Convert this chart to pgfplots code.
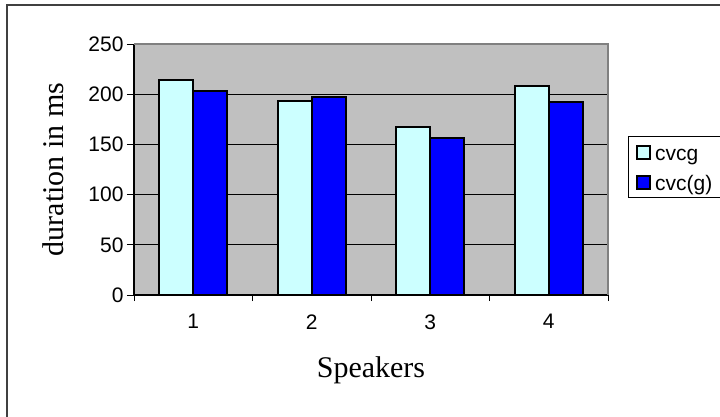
\documentclass[border=0pt]{standalone}
\usepackage{fontspec}
\setmainfont{Liberation Sans}
\newfontfamily\serifti{Liberation Serif}
\usepackage{pgfplots}
\pgfplotsset{compat=1.18}
\definecolor{lightcyan}{HTML}{CCFFFF}
\definecolor{plotgray}{HTML}{C0C0C0}
\definecolor{bordergray}{HTML}{808080}
\definecolor{framegray}{HTML}{404040}
\newcommand\lstrut{\rule[-4.5pt]{0pt}{23.5pt}}
\begin{document}
\begin{tikzpicture}[x=1pt,y=1pt]
\path[use as bounding box] (0,0) rectangle (720,416);
\draw[framegray, line width=2pt] (6.5,-5) -- (6.5,411) -- (730,411);
\begin{axis}[
 at={(134pt,121pt)}, anchor=south west,
 scale only axis, width=474pt, height=251pt,
 xmin=0.5, xmax=4.5, ymin=0, ymax=250,
 clip=false,
 ybar=0pt, bar width=34pt,
 axis background/.style={fill=plotgray},
 axis x line*=bottom, axis y line*=left,
 axis line style={line width=1.2pt, black, -},
 xtick={1,2,3,4},
 minor xtick={0.5,1.5,2.5,3.5,4.5},
 major x tick style={draw=none},
 minor x tick style={black, line width=1pt},
 minor tick length=6pt,
 ytick={0,50,...,250},
 major y tick style={black, line width=1pt},
 major tick length=7pt,
 tick align=outside,
 ymajorgrids, grid style={black, line width=0.8pt},
 ticklabel style={font=\fontsize{21}{25}\selectfont},
 xticklabel style={yshift=-9pt},
 /pgf/number format/assume math mode=true,
 ylabel={duration in ms},
 ylabel style={at={(axis description cs:-0.171,0.5)}, anchor=center, font=\serifti\fontsize{30}{34}\selectfont},
 xlabel={Speakers},
 xlabel style={at={(axis description cs:0.5,-0.3267)}, anchor=base, font=\serifti\fontsize{30}{34}\selectfont},
 legend style={at={(axis description cs:1.0422,0.6335)}, anchor=north west, draw=black, line width=0.8pt,
   font=\fontsize{21}{25}\selectfont, inner xsep=8pt, inner ysep=5pt, row sep=10pt, column sep=4pt,
   nodes={inner sep=0pt, text width=57pt}},
 legend cell align=left,
 legend image code/.code={\draw[#1] (0pt,-7pt) rectangle (13pt,6pt);},
]
\addplot[fill=lightcyan, draw=black, line width=1.8pt] coordinates {(1,214) (2,193) (3,167) (4,208)};
\addplot[fill=blue, draw=black, line width=1.8pt] coordinates {(1,203) (2,197) (3,156) (4,192)};
\addlegendentry{\lstrut cvcg}
\addlegendentry{\lstrut cvc(g)}
\draw[bordergray, line width=2pt] (rel axis cs:0,1) -- (rel axis cs:1,1) -- (rel axis cs:1,0);
\end{axis}
\end{tikzpicture}
\end{document}
